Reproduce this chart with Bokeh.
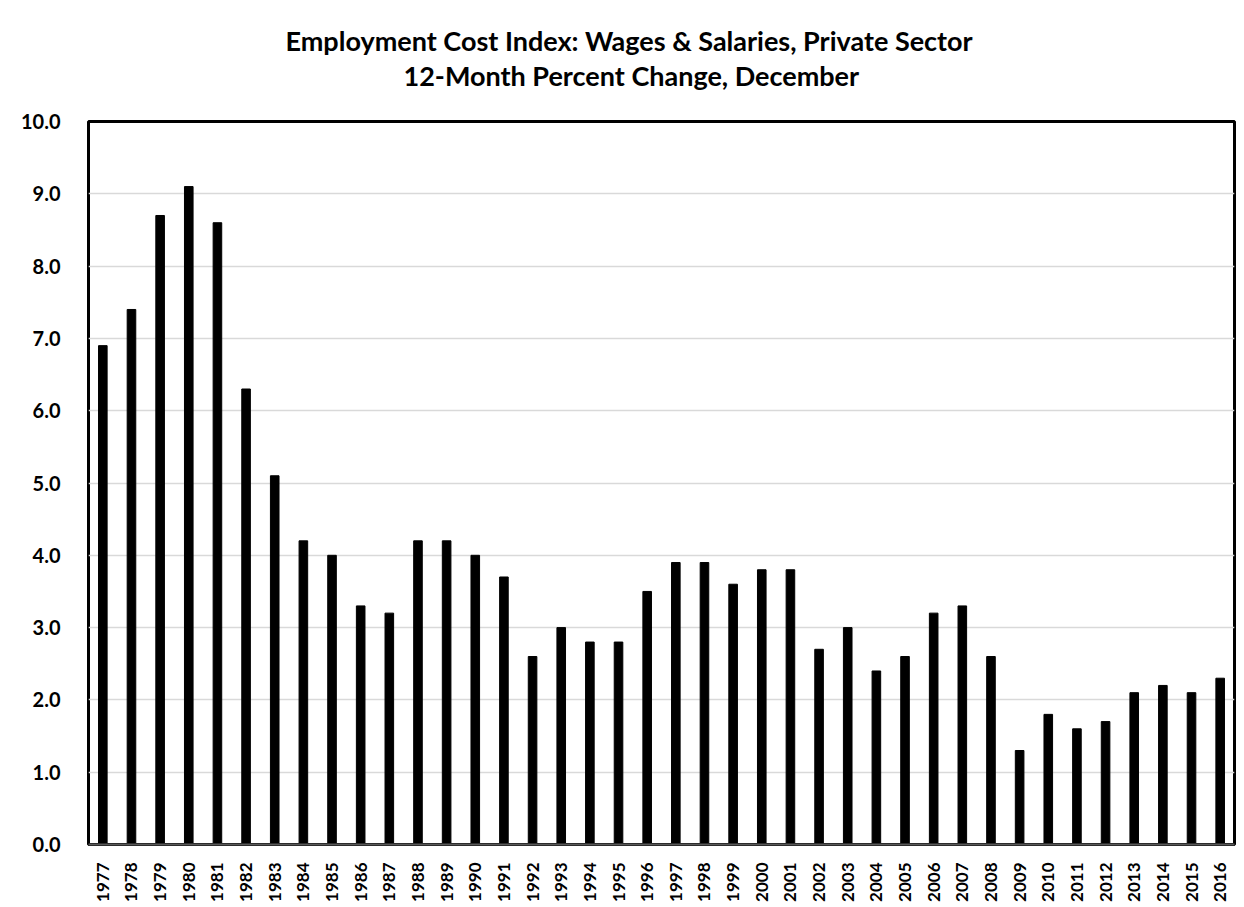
import math
from bokeh.plotting import figure
from bokeh.models import FactorRange, Range1d, FixedTicker, PrintfTickFormatter, Title
from bokeh.embed import file_html
from bokeh.resources import INLINE

years = [str(y) for y in range(1977, 2017)]
values = [6.9, 7.4, 8.7, 9.1, 8.6, 6.3, 5.1, 4.2, 4.0, 3.3,
          3.2, 4.2, 4.2, 4.0, 3.7, 2.6, 3.0, 2.8, 2.8, 3.5,
          3.9, 3.9, 3.6, 3.8, 3.8, 2.7, 3.0, 2.4, 2.6, 3.2,
          3.3, 2.6, 1.3, 1.8, 1.6, 1.7, 2.1, 2.2, 2.1, 2.3]
y_ticks = [0, 1, 2, 3, 4, 5, 6, 7, 8, 9, 10]
title_line1 = "Employment Cost Index: Wages & Salaries, Private Sector"
title_line2 = "12-Month Percent Change, December"

FONT = "Lato"

p = figure(width=1244, height=907, x_range=FactorRange(*years, range_padding=0),
           y_range=Range1d(0, 10), output_backend="svg", toolbar_location=None,
           min_border_left=88, min_border_right=10, min_border_top=121, min_border_bottom=63)

p.vbar(x=years, top=values, width=0.3, color="black")

spacer = Title(text=" ", align="left", text_font=FONT, text_font_size="23px", standoff=0)
t2 = Title(text=title_line2, align="left", offset=315, text_font=FONT, text_font_size="27px",
           text_font_style="bold", text_color="black", standoff=0)
t1 = Title(text=title_line1, align="left", offset=197, text_font=FONT, text_font_size="27px",
           text_font_style="bold", text_color="black", standoff=0)
p.add_layout(spacer, "above")
p.add_layout(t2, "above")
p.add_layout(t1, "above")

p.outline_line_color = "black"
p.outline_line_width = 3
p.xgrid.grid_line_color = None
p.ygrid.grid_line_color = "#d9d9d9"
p.ygrid.grid_line_width = 1.5
p.ygrid.ticker = FixedTicker(ticks=y_ticks)

p.yaxis.ticker = FixedTicker(ticks=y_ticks)
p.yaxis.formatter = PrintfTickFormatter(format="%.1f")
p.yaxis.major_label_text_font = FONT
p.yaxis.major_label_text_font_size = "20px"
p.yaxis.major_label_text_font_style = "bold"
p.yaxis.major_label_text_color = "black"
p.yaxis.major_label_standoff = 22
p.yaxis.axis_line_color = None
p.yaxis.major_tick_line_color = None
p.yaxis.minor_tick_line_color = None

p.xaxis.major_label_orientation = math.pi / 2
p.xaxis.major_label_text_font = FONT
p.xaxis.major_label_text_font_size = "17px"
p.xaxis.major_label_text_font_style = "bold"
p.xaxis.major_label_text_color = "black"
p.xaxis.major_label_standoff = 12
p.xaxis.axis_line_color = "#595959"
p.xaxis.axis_line_width = 2
p.xaxis.major_tick_line_color = None
p.xaxis.minor_tick_line_color = None

open("out.html", "w").write(file_html(p, INLINE))
